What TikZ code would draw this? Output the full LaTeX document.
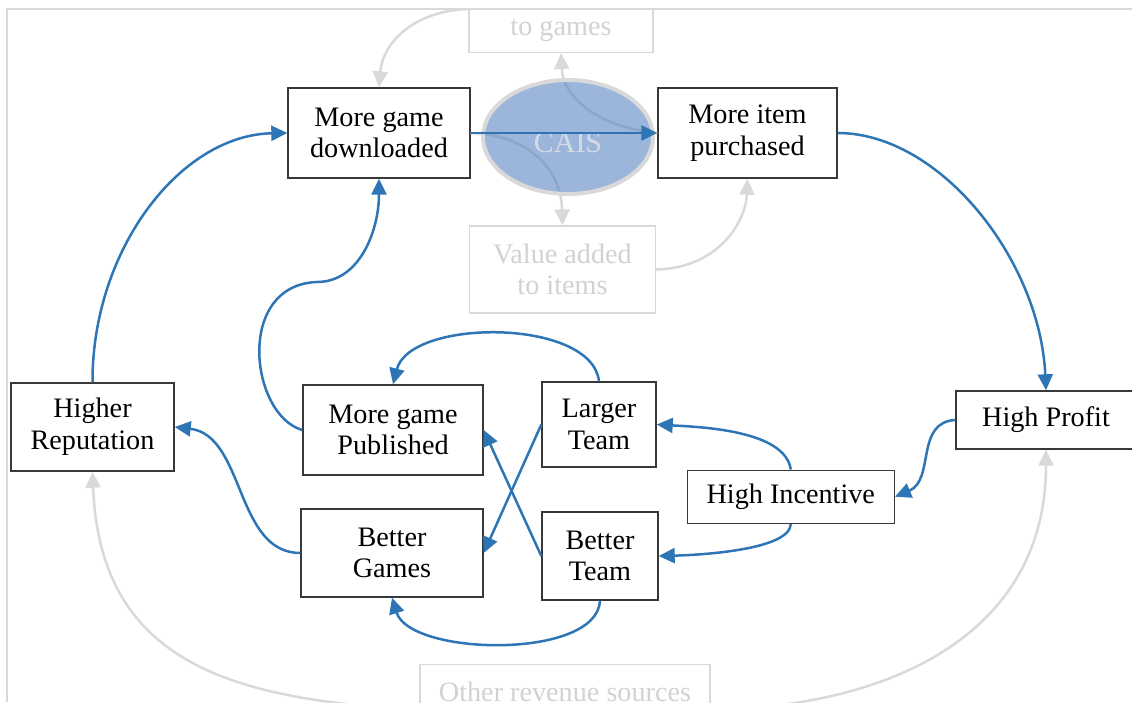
\documentclass[tikz,border=0pt]{standalone}
\usepackage{fontspec}
\setmainfont{Liberation Serif}
\usetikzlibrary{arrows.meta,shapes.geometric}
\definecolor{flow}{HTML}{2E75B6}
\definecolor{frame}{HTML}{D9D9D9}
\definecolor{faded}{HTML}{D2D2D2}
\definecolor{edge}{HTML}{383838}
\definecolor{caisfill}{HTML}{5A84C1}
\definecolor{caistext}{HTML}{D5DBE6}
\begin{document}
\begin{tikzpicture}[x=1pt,y=-1pt,
  every node/.style={font=\fontsize{28.2}{31.6}\selectfont, align=center, inner sep=0pt},
  box/.style={draw=edge, line width=1.4pt, fill=white},
  ghost/.style={draw=frame, line width=1.2pt, text=faded, fill=white},
  flowarrow/.style={draw=flow, line width=2.5pt, -{Triangle[length=16pt,width=15pt]}},
  ghostarrow/.style={draw=frame, line width=2.5pt, -{Triangle[length=16pt,width=15pt]}},
  frameline/.style={draw=frame, line width=2pt}
]
\useasboundingbox (0,0) rectangle (1132,702);
\begin{scope}
\clip (0,10.5) rectangle (1132,702);

% main loop boxes
\node[box, minimum width=182pt, minimum height=90pt] (dl) at (379,133) {More game\\downloaded};
\node[box, minimum width=179pt, minimum height=90pt] (ip) at (747.5,133) {More item\\purchased};
\node[box, minimum width=163pt, minimum height=88pt] (hr) at (92.5,427) {Higher\\Reputation};
\node[box, minimum width=180pt, minimum height=90pt] (mp) at (393,430) {More game\\Published};
\node[box, minimum width=114pt, minimum height=85pt] (lt) at (599,424.5) {Larger\\Team};
\node[box, minimum width=182pt, minimum height=88pt] (bg) at (392,553) {Better\\Games};
\node[box, minimum width=116pt, minimum height=88pt] (bt) at (600,556) {Better\\Team};
\node[box, minimum width=207pt, minimum height=53pt] (hi) at (790.8,496.7) {High Incentive};
\node[box, minimum width=180pt, minimum height=58pt] (hp) at (1046,420) {High Profit};

% faded side boxes
\node[ghost, anchor=south, text height=70pt, text depth=16.5pt, minimum width=184pt] (tg) at (561,53) {to games};
\node[ghost, minimum width=186pt, minimum height=87pt] (va) at (562.5,269.5) {Value added\\to items};
\node[ghost, anchor=north, text height=37pt, text depth=53pt, minimum width=290pt] (ors) at (565,664) {Other revenue sources};

% faded connectors
\draw[ghostarrow] (tg.west) .. controls (418,10) and (383,40) .. (dl.north);
\draw[ghostarrow] (ip.west) .. controls (595,127) and (563,95) .. (tg.south);
\draw[ghostarrow] (dl.east) .. controls (530,135) and (561,170) .. (va.north);
\draw[ghostarrow] (va.east) .. controls (720,268) and (746,220) .. (ip.south);
\draw[ghostarrow] (ors.west) .. controls (230,700) and (100,662) .. (hr.south);
\draw[ghostarrow] (ors.east) .. controls (880,708) and (1046,640) .. (hp.south);

% CAIS ellipse
\node[ellipse, draw=frame, line width=4pt, fill=caisfill, fill opacity=0.6,
      minimum width=170pt, minimum height=114pt] (cais) at (568,137) {};
\node[text=caistext, font=\fontsize{30}{34}\selectfont] (caislabel) at ([yshift=-6pt]cais.center) {CAIS};

% main flow connectors
\draw[flowarrow] (dl.east) -- (ip.west);
\draw[flowarrow] (ip.east) .. controls (940,133) and (1040,260) .. (hp.north);
\draw[flowarrow] (hp.west) .. controls (915,422) and (935,480) .. (hi.east);
\draw[flowarrow] (hi.north) .. controls (785,430) and (700,427) .. (lt.east);
\draw[flowarrow] (hi.south) .. controls (790,550) and (700,555) .. (bt.east);
\draw[flowarrow] (lt.north) .. controls (592,318) and (410,318) .. (mp.north);
\draw[flowarrow] (lt.west) -- (bg.east);
\draw[flowarrow] (bt.west) -- (mp.east);
\draw[flowarrow] (bt.south) .. controls (597,660) and (410,656) .. (bg.south);
\draw[flowarrow] (bg.west) .. controls (235,553) and (245,435) .. (hr.east);
\draw[flowarrow] (mp.west) .. controls (250,415) and (235,285) .. (317,282)
                           .. controls (360,282) and (379,230) .. (dl.south);
\draw[flowarrow] (hr.north) .. controls (92,250) and (180,135) .. (dl.west);
\end{scope}

% outer frame
\draw[frameline] (7,702) -- (7,9) -- (1132,9);
\end{tikzpicture}
\end{document}
